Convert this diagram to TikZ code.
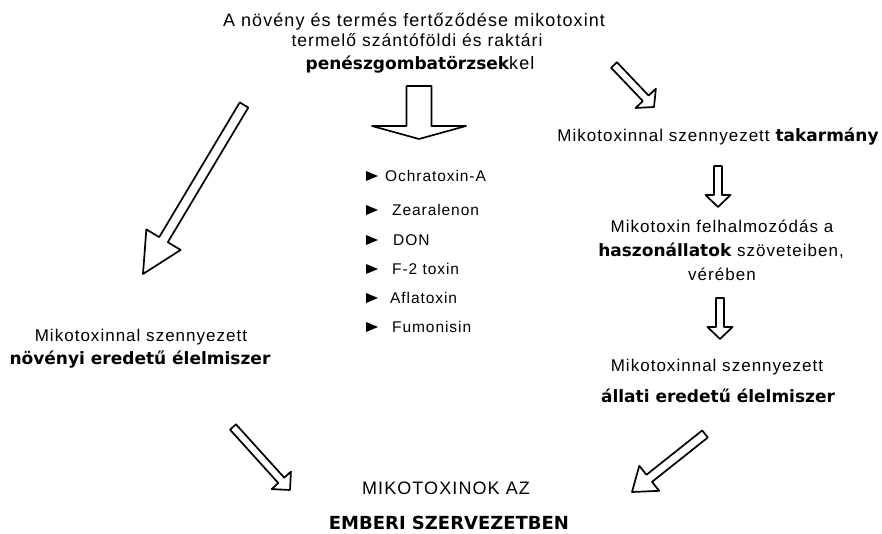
\documentclass[tikz,border=0pt]{standalone}
\usepackage{fontspec}
\setmainfont{Liberation Sans}[LetterSpace=6]
\newfontfamily\dvb{DejaVu Sans}
\usetikzlibrary{calc}
\newcommand{\hb}[1]{{\dvb\bfseries #1}}
% #1 name, #2 tail, #3 tip, #4 shaft half width, #5 head half width, #6 head length
\newcommand{\blockarrow}[6]{%
  \coordinate (#1t) at #2;
  \coordinate (#1p) at #3;
  \coordinate (#1b) at ($(#1p)!#6pt!(#1t)$);
  \draw[blk] ($(#1t)!#4pt!90:(#1p)$) -- ($(#1b)!#4pt!90:(#1p)$) -- ($(#1b)!#5pt!90:(#1p)$)
    -- (#1p) -- ($(#1b)!#5pt!-90:(#1p)$) -- ($(#1b)!#4pt!-90:(#1p)$) -- ($(#1t)!#4pt!-90:(#1p)$) -- cycle;
}
\tikzset{
  txt/.style={inner sep=0pt, anchor=base, font=\fontsize{17}{20}\selectfont},
  toptxt/.style={txt, font=\fontsize{18}{21}\selectfont},
  listtxt/.style={inner sep=0pt, anchor=base west, font=\fontsize{15.5}{18}\selectfont},
  blk/.style={draw=black, line width=1.7pt, fill=white, line join=round},
  bullet/.style={fill=black}
}
\begin{document}
\begin{tikzpicture}[x=1pt,y=-1pt]
\useasboundingbox[fill=white] (0,0) rectangle (882,534);

% top text
\node[toptxt] (top1) at (414,27) {A növény és termés fertőződése mikotoxint};
\node[toptxt, font=\fontsize{17.5}{20}\selectfont] (top2) at (417,47) {termelő szántóföldi és raktári};
\node[toptxt] (top3) at (420,70) {\hb{\fontsize{17}{20}\selectfont penészgombatörzsek}kel};

% list
\foreach \c in {176,210,240,269,298,327}
  \fill[bullet] (366,\c-5) -- (378,\c) -- (366,\c+5) -- cycle;
\node[listtxt] (l1) at (385,181.5) {Ochratoxin-A};
\node[listtxt] (l2) at (392,215.5) {Zearalenon};
\node[listtxt] (l3) at (393,245.5) {DON};
\node[listtxt] (l4) at (392,274.5) {F-2 toxin};
\node[listtxt] (l5) at (390,303.5) {Aflatoxin};
\node[listtxt] (l6) at (392,332.5) {Fumonisin};

% right column
\node[txt] (tak) at (718,142) {Mikotoxinnal szennyezett \hb{takarmány}};
\node[txt] (fel1) at (722,233) {Mikotoxin felhalmozódás a};
\node[txt] (fel2) at (721,257) {\hb{haszonállatok} szöveteiben,};
\node[txt] (fel3) at (722,280) {vérében};
\node[txt] (all1) at (717,371) {Mikotoxinnal szennyezett};
\node[txt] (all2) at (718,402) {\hb{állati eredetű élelmiszer}};

% left column
\node[txt] (nov1) at (141,341) {Mikotoxinnal szennyezett};
\node[txt] (nov2) at (140,364) {\hb{növényi eredetű élelmiszer}};

% bottom
\node[toptxt] (emb1) at (446,494) {MIKOTOXINOK AZ};
\node[txt] (emb2) at (449,529) {\hb{\fontsize{18}{21}\selectfont EMBERI SZERVEZETBEN}};

% arrows
\blockarrow{a1}{(419,86)}{(419,139)}{12.5}{47}{13}
\blockarrow{a2}{(614,65)}{(654,107)}{4}{14}{12}
\blockarrow{a3}{(244,105)}{(143,274)}{5}{20}{40}
\blockarrow{a4}{(233,427)}{(290,490)}{4}{13}{13}
\blockarrow{a5}{(705,434)}{(632,492)}{4.5}{16}{22}
\blockarrow{a6}{(718,166)}{(718,207)}{4}{12.5}{12}
\blockarrow{a7}{(720,298)}{(720,339)}{4}{12.5}{12}
\end{tikzpicture}
\end{document}
